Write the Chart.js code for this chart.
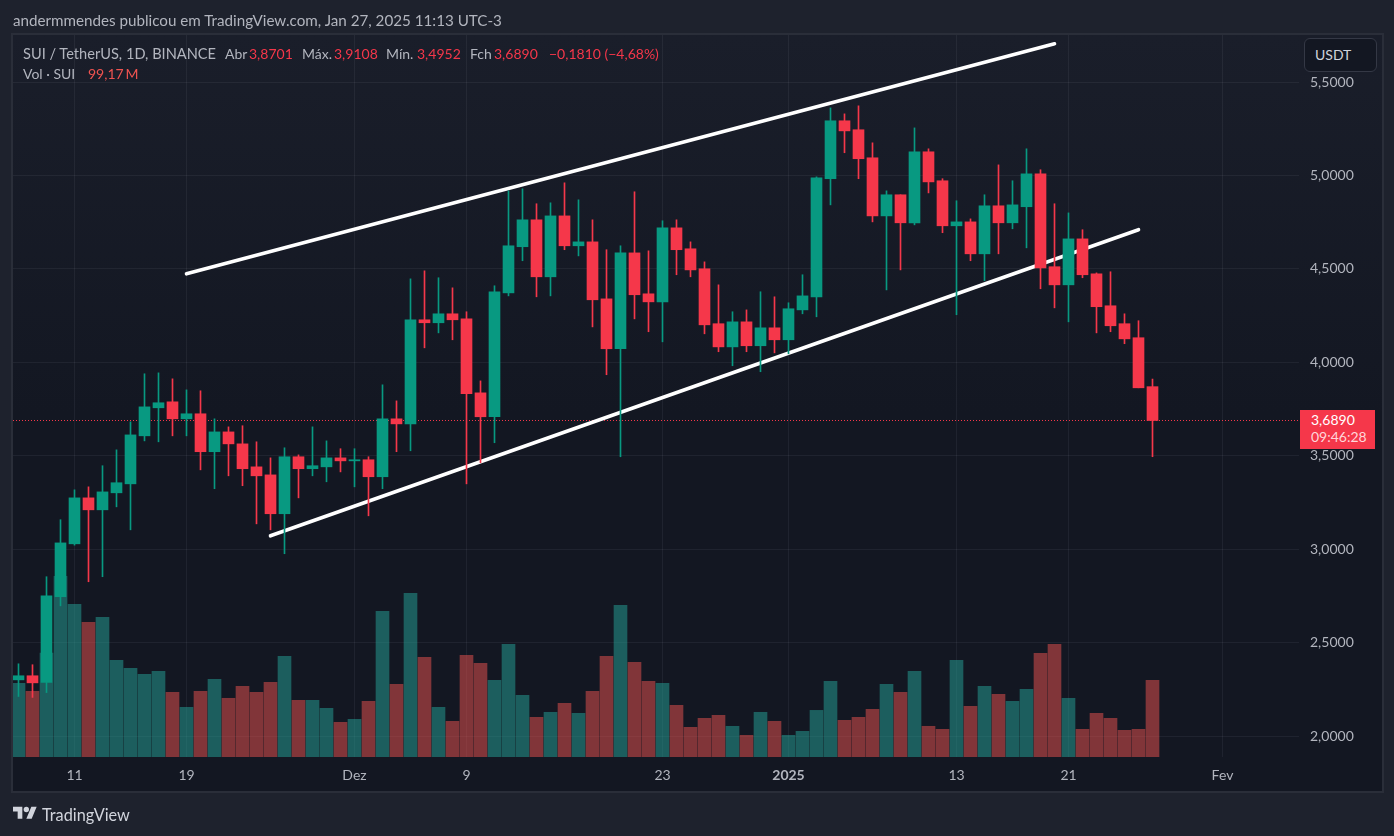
<!DOCTYPE html>
<html lang="pt">
<head>
<meta charset="utf-8">
<title>SUI / TetherUS</title>
<script src="https://cdn.jsdelivr.net/npm/chart.js@4/dist/chart.umd.min.js"></script>
<style>
  html, body { margin: 0; padding: 0; width: 1394px; height: 836px; overflow: hidden; background: #1e222d; }
  body { position: relative; font-family: Lato, sans-serif; color: #b2b5be; }
  #pane { position: absolute; left: 11px; top: 33px; width: 1369px; height: 756px; border: 2px solid #2a2e39;
          background: linear-gradient(#1a1e2a, #131722 50%); }
  canvas { position: absolute; left: 0; top: 0; }
  .txt { position: absolute; white-space: pre; font-size: 14px; line-height: 18px; }
  .down { color: #f5374a; }
  #usdtMask { position: absolute; left: 1300px; top: 35px; width: 80px; height: 40px; background: #191d29; }
  #usdt { position: absolute; left: 1304px; top: 38px; width: 71px; height: 32px; border: 1px solid #343845;
          border-radius: 6px; background: #131722; color: #d1d4dc; font-size: 14px; line-height: 32px;
          text-indent: 10px; }
  #lastBox { position: absolute; left: 1300px; top: 410px; width: 75px; height: 39px; background: #f5374a; }
  #logo { position: absolute; left: 13px; top: 804px; }
</style>
</head>
<body>
<div id="pane"></div>
<canvas id="chart" width="1394" height="836"></canvas>

<div class="txt" style="left:13px;top:11px;font-size:15.2px;color:#b2b5be">andermmendes publicou em TradingView.com, Jan 27, 2025 11:13 UTC-3</div>

<div class="txt" style="left:23px;top:45px;font-size:14.6px">SUI / TetherUS, 1D, BINANCE</div>
<div class="txt" style="left:225px;top:45px">Abr</div>
<div class="txt down" style="left:249px;top:45px">3,8701</div>
<div class="txt" style="left:302px;top:45px">Máx.</div>
<div class="txt down" style="left:334px;top:45px">3,9108</div>
<div class="txt" style="left:386px;top:45px">Mín.</div>
<div class="txt down" style="left:417px;top:45px">3,4952</div>
<div class="txt" style="left:470px;top:45px">Fch</div>
<div class="txt down" style="left:494px;top:45px">3,6890</div>
<div class="txt down" style="left:549px;top:45px">−0,1810 (−4,68%)</div>
<div class="txt" style="left:23px;top:65px">Vol · SUI</div>
<div class="txt" style="left:88px;top:65px;color:#ef5350">99,17&#8201;M</div>

<div id="usdtMask"></div>
<div id="usdt">USDT</div>

<div id="lastBox"></div>
<div class="txt" style="left:1311px;top:411px;color:#fff">3,6890</div>
<div class="txt" style="left:1311px;top:428px;color:#ffd5d9">09:46:28</div>

<svg id="logo" width="24" height="19" viewBox="0 0 36 28" fill="#d1d4dc">
  <path d="M14 22H7V11H0V4h14v18zM28 22h-8l7.5-18h8L28 22z"/><circle cx="20" cy="8" r="4"/>
</svg>
<div class="txt" style="left:42px;top:806px;font-size:16.3px;color:#d1d4dc">TradingView</div>

<script>
// daily candles, Nov 7 2024 .. Jan 27 2025
const opens = [2.301,2.323,2.287,2.746,3.029,3.275,3.211,3.302,3.350,3.607,3.757,3.789,3.698,3.725,3.522,3.628,3.564,3.441,3.398,3.190,3.495,3.431,3.441,3.489,3.473,3.479,3.388,3.698,3.671,4.228,4.212,4.260,4.233,3.837,3.709,4.372,4.619,4.763,4.458,4.784,4.624,4.645,4.340,4.073,4.586,4.367,4.324,4.720,4.608,4.501,4.207,4.083,4.217,4.089,4.185,4.121,4.281,4.351,4.983,5.293,5.245,5.095,4.784,4.897,4.747,5.127,4.972,4.731,4.752,4.581,4.838,4.747,4.833,5.009,4.512,4.415,4.661,4.474,4.303,4.207,4.132,3.8701];
const highs = [2.387,2.382,2.853,3.158,3.318,3.334,3.447,3.532,3.682,3.939,3.944,3.912,3.853,3.848,3.698,3.655,3.661,3.575,3.489,3.543,3.505,3.655,3.580,3.538,3.538,3.495,3.880,3.794,4.447,4.490,4.453,4.399,4.271,3.901,4.410,4.918,4.929,4.849,4.854,4.961,4.870,4.763,4.603,4.624,4.913,4.597,4.758,4.763,4.645,4.538,4.415,4.271,4.281,4.378,4.351,4.319,4.469,4.993,5.362,5.330,5.373,5.175,4.918,4.897,5.255,5.143,4.983,4.865,4.768,4.897,5.057,4.972,5.143,5.031,4.849,4.800,4.710,4.479,4.485,4.260,4.223,3.9108];
const lows = [2.212,2.207,2.233,2.697,3.022,2.826,2.853,3.227,3.104,3.580,3.575,3.607,3.607,3.425,3.324,3.393,3.340,3.136,3.104,2.976,3.275,3.393,3.361,3.414,3.334,3.179,3.324,3.522,3.527,4.078,4.158,4.121,3.350,3.463,3.570,4.356,4.544,4.351,4.356,4.603,4.570,4.190,3.934,3.495,4.233,4.164,4.110,4.469,4.458,4.153,4.057,3.982,4.057,3.950,4.051,4.046,4.260,4.244,4.843,5.122,4.983,4.752,4.388,4.495,4.736,4.907,4.694,4.255,4.544,4.437,4.581,4.715,4.613,4.394,4.292,4.217,4.453,4.158,4.164,4.100,3.864,3.4952];
const closes = [2.323,2.285,2.751,3.034,3.275,3.211,3.307,3.356,3.612,3.762,3.784,3.698,3.725,3.522,3.628,3.564,3.431,3.393,3.190,3.495,3.431,3.447,3.489,3.473,3.479,3.388,3.698,3.671,4.228,4.212,4.260,4.228,3.832,3.709,4.378,4.624,4.763,4.458,4.784,4.624,4.645,4.335,4.073,4.586,4.362,4.324,4.720,4.603,4.495,4.201,4.083,4.217,4.089,4.185,4.121,4.287,4.356,4.988,5.293,5.239,5.090,4.784,4.897,4.747,5.127,4.966,4.731,4.752,4.581,4.838,4.747,4.843,5.009,4.506,4.415,4.661,4.469,4.298,4.196,4.126,3.864,3.6890];
// volume in millions of SUI
const volumes = [95.3,84.9,134.5,233.6,197.4,174.1,180.6,125.0,114.6,106.9,110.8,83.6,64.2,84.9,100.4,75.9,91.4,83.6,96.5,130.2,73.3,73.3,62.9,44.8,48.7,72.0,188.3,94.0,211.6,128.9,64.2,46.1,131.5,121.1,99.1,145.7,79.7,51.3,57.8,69.4,56.5,84.9,130.2,196.1,122.4,97.8,95.3,66.8,38.4,50.0,53.9,39.7,28.0,57.8,46.1,28.0,33.2,60.3,97.8,47.4,51.3,61.6,94.0,83.6,110.8,39.7,35.8,125.0,65.5,91.4,81.0,72.0,87.5,134.0,145.7,75.9,35.8,56.5,50.0,34.5,35.8,99.17];

const xTickIndexes = [4, 12, 24, 32, 46, 55, 67, 75, 86];
const xTickLabels = ['11', '19', 'Dez', '9', '23', '2025', '13', '21', 'Fev'];
const yTickValues = [2, 2.5, 3, 3.5, 4, 4.5, 5, 5.5];

const lastPrice = 3.689;
const channelUpperX = [12, 74];
const channelUpperY = [4.474, 5.705];
const channelLowerX = [18, 80];
const channelLowerY = [3.072, 4.710];

const UP = '#089981';
const DOWN = '#f5374a';
const VOL_UP = 'rgba(38,166,154,0.5)';
const VOL_DOWN = 'rgba(239,83,80,0.5)';
const GRID = 'rgba(240,243,250,0.06)';

const X_MIN = -5.5 / 14;
const X_MAX = 1280.5 / 14;

const isUp = closes.map((c, i) => c >= opens[i]);
const candleColors = isUp.map(u => u ? UP : DOWN);
const volColors = isUp.map(u => u ? VOL_UP : VOL_DOWN);

function priceLabel(v) {
  return v.toFixed(4).replace('.', ',');
}

new Chart(document.getElementById('chart'), {
  data: {
    datasets: [
      {
        type: 'bar', order: 1, grouped: false, barThickness: 11, yAxisID: 'y',
        data: opens.map((o, i) => ({ x: i, y: [o, closes[i]] })),
        backgroundColor: candleColors, borderWidth: 0
      },
      {
        type: 'bar', order: 2, grouped: false, barThickness: 1, yAxisID: 'y',
        data: lows.map((l, i) => ({ x: i, y: [l, highs[i]] })),
        backgroundColor: candleColors, borderWidth: 0
      },
      {
        type: 'line', order: 3, yAxisID: 'y',
        data: channelUpperX.map((x, i) => ({ x, y: channelUpperY[i] })),
        borderColor: '#ffffff', borderWidth: 3.6, borderCapStyle: 'round', pointRadius: 0
      },
      {
        type: 'line', order: 3, yAxisID: 'y',
        data: channelLowerX.map((x, i) => ({ x, y: channelLowerY[i] })),
        borderColor: '#ffffff', borderWidth: 3.6, borderCapStyle: 'round', pointRadius: 0
      },
      {
        type: 'line', order: 4, yAxisID: 'y',
        data: [{ x: X_MIN, y: lastPrice }, { x: X_MAX, y: lastPrice }],
        borderColor: DOWN, borderWidth: 1, borderDash: [1, 2], pointRadius: 0
      },
      {
        type: 'bar', order: 5, grouped: false, barThickness: 13, yAxisID: 'yVol',
        data: volumes.map((v, i) => ({ x: i, y: v })),
        backgroundColor: volColors, borderWidth: 0
      }
    ]
  },
  options: {
    responsive: false,
    animation: false,
    layout: { padding: { left: 13, top: 35, right: 14, bottom: 45 } },
    plugins: { legend: { display: false }, tooltip: { enabled: false } },
    scales: {
      x: {
        type: 'linear',
        offset: false,
        min: X_MIN,
        max: X_MAX,
        afterBuildTicks: s => { s.ticks = xTickIndexes.map(value => ({ value })); },
        afterFit: s => { s.height = 34; },
        border: { display: false },
        grid: { color: GRID, drawTicks: false, offset: false },
        ticks: {
          autoSkip: false, maxRotation: 0, padding: 10, color: '#b2b5be',
          font: ctx => ({
            family: 'Lato', size: 14,
            weight: ctx.tick && ctx.tick.label === '2025' ? 'bold' : 'normal'
          }),
          callback: v => xTickLabels[xTickIndexes.indexOf(v)]
        }
      },
      y: {
        position: 'right',
        min: 1.8882,
        max: 5.75206,
        afterBuildTicks: s => { s.ticks = yTickValues.map(value => ({ value })); },
        afterFit: s => { s.width = 81; },
        border: { display: false },
        grid: { color: GRID, drawTicks: false },
        ticks: {
          padding: 11, color: '#b2b5be', align: 'center',
          font: { family: 'Lato', size: 14 },
          callback: v => priceLabel(v)
        }
      },
      yVol: { display: false, min: 0, max: 933.5 }
    }
  }
});
</script>
</body>
</html>
